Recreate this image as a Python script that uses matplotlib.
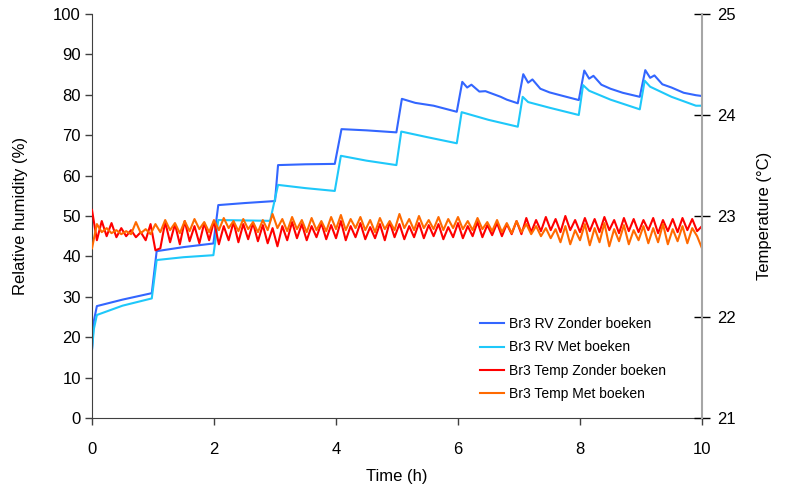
import numpy as np
import matplotlib
matplotlib.use("Agg")
import matplotlib.pyplot as plt

plt.rcParams['font.family'] = ['Liberation Sans', 'DejaVu Sans']

# ---------------- data ----------------
rv_zonder_t = [0.00, 0.03, 0.08, 0.5, 0.98, 1.06, 1.5, 1.99, 2.07, 2.5, 3.00, 3.05, 3.5, 3.98,
               4.09, 4.5, 4.99, 5.08, 5.3, 5.6, 5.98, 6.07, 6.15, 6.22, 6.35, 6.45, 6.7, 6.8,
               6.98, 7.07, 7.15, 7.22, 7.35, 7.5, 7.7, 7.98, 8.07, 8.15, 8.22, 8.35, 8.5, 8.7,
               8.98, 9.07, 9.15, 9.22, 9.35, 9.5, 9.7, 9.9, 10.0]
rv_zonder = [16.8, 24.0, 27.7, 29.3, 30.9, 41.3, 42.3, 43.2, 52.7, 53.2, 53.7, 62.6, 62.8, 62.9,
             71.5, 71.2, 70.7, 79.0, 78.0, 77.3, 75.8, 83.2, 81.8, 82.5, 80.8, 80.9, 79.5, 78.8,
             77.9, 85.1, 83.0, 83.8, 81.5, 80.6, 79.8, 78.7, 86.0, 84.0, 84.7, 82.5, 81.5, 80.5,
             79.5, 86.1, 84.2, 84.8, 82.6, 81.8, 80.5, 79.9, 79.7]

rv_met_t = [0.00, 0.03, 0.08, 0.5, 0.98, 1.06, 1.5, 1.99, 2.07, 2.5, 2.92, 3.05, 3.5, 3.98,
            4.08, 4.5, 4.99, 5.07, 5.5, 5.98, 6.06, 6.5, 6.98, 7.06, 7.15, 7.5, 7.98, 8.05,
            8.15, 8.5, 8.98, 9.06, 9.15, 9.5, 9.9, 10.0]
rv_met = [17.0, 22.0, 25.5, 27.8, 29.6, 39.1, 39.8, 40.3, 49.0, 48.9, 48.8, 57.7, 56.9, 56.2,
          64.9, 63.7, 62.6, 70.9, 69.5, 68.0, 75.7, 73.8, 72.1, 79.5, 78.2, 76.8, 75.0, 82.4,
          81.0, 78.8, 76.4, 83.5, 82.0, 79.5, 77.3, 77.3]

temp_t = np.linspace(0, 10, 126)
temp_zonder = [23.06, 22.76, 22.95, 22.80, 22.93, 22.79, 22.88, 22.80, 22.86, 22.79, 22.84, 22.76,
               22.92, 22.66, 22.68, 22.94, 22.74, 22.92, 22.72, 22.95, 22.75, 22.90, 22.73, 22.93,
               22.76, 22.95, 22.72, 22.90, 22.76, 22.94, 22.74, 22.92, 22.77, 22.93, 22.75, 22.91,
               22.73, 22.88, 22.70, 22.90, 22.76, 22.94, 22.78, 22.92, 22.76, 22.90, 22.79, 22.93,
               22.77, 22.91, 22.78, 22.95, 22.76, 22.90, 22.79, 22.93, 22.77, 22.89, 22.78, 22.92,
               22.76, 22.94, 22.79, 22.92, 22.77, 22.90, 22.79, 22.93, 22.78, 22.91, 22.80, 22.92,
               22.77, 22.89, 22.79, 22.93, 22.78, 22.90, 22.80, 22.94, 22.79, 22.91, 22.81, 22.93,
               22.80, 22.92, 22.82, 22.95, 22.82, 22.98, 22.84, 22.96, 22.85, 22.99, 22.86, 22.97,
               22.84, 23.00, 22.86, 22.96, 22.84, 22.98, 22.85, 22.97, 22.84, 22.99, 22.86, 22.96,
               22.83, 22.98, 22.85, 22.97, 22.84, 22.96, 22.86, 22.98, 22.83, 22.96, 22.85, 22.97,
               22.84, 22.98, 22.86, 22.97, 22.85, 22.90]
temp_met = [22.68, 22.92, 22.84, 22.88, 22.83, 22.86, 22.82, 22.85, 22.82, 22.94, 22.83, 22.87,
            22.82, 22.92, 22.84, 22.96, 22.86, 22.93, 22.83, 22.95, 22.85, 22.97, 22.87, 22.94,
            22.84, 22.96, 22.86, 22.98, 22.88, 22.95, 22.85, 22.97, 22.87, 22.94, 22.84, 22.96,
            22.86, 23.02, 22.88, 22.97, 22.85, 22.99, 22.87, 22.96, 22.84, 22.98, 22.86, 22.95,
            22.85, 22.99, 22.87, 23.01, 22.86, 22.97, 22.88, 22.99, 22.86, 22.96, 22.84, 22.98,
            22.87, 22.95, 22.86, 23.02, 22.88, 22.97, 22.86, 23.00, 22.88, 22.96, 22.87, 22.99,
            22.86, 22.97, 22.88, 22.99, 22.87, 22.95, 22.86, 22.98, 22.87, 22.94, 22.85, 22.96,
            22.84, 22.93, 22.83, 22.95, 22.84, 22.92, 22.82, 22.90, 22.80, 22.88, 22.78, 22.87,
            22.74, 22.90, 22.72, 22.86, 22.76, 22.92, 22.71, 22.88, 22.74, 22.93, 22.70, 22.87,
            22.75, 22.91, 22.72, 22.86, 22.76, 22.90, 22.73, 22.88, 22.74, 22.92, 22.72, 22.87,
            22.75, 22.90, 22.73, 22.88, 22.80, 22.68]

labels = ["Br3 RV Zonder boeken", "Br3 RV Met boeken",
          "Br3 Temp Zonder boeken", "Br3 Temp Met boeken"]
colors = ["#3366FF", "#1EC8FA", "#FF0000", "#FF6A00"]

x_ticks = [0, 2, 4, 6, 8, 10]
rh_ticks = list(range(0, 101, 10))
temp_ticks = [21, 22, 23, 24, 25]

# ---------------- figure ----------------
W, H = 793, 491
fig = plt.figure(figsize=(W / 100, H / 100), dpi=100)
L, R, T, B = 92, 702, 14, 418
ax = fig.add_axes([L / W, 1 - B / H, (R - L) / W, (B - T) / H])
ax2 = ax.twinx()

lw = 1.5
l1, = ax.plot(rv_zonder_t, rv_zonder, color=colors[0], lw=lw)
l2, = ax.plot(rv_met_t, rv_met, color=colors[1], lw=lw)
l3, = ax2.plot(temp_t, temp_zonder, color=colors[2], lw=lw)
l4, = ax2.plot(temp_t, temp_met, color=colors[3], lw=lw)

ax.set_xlim(0, 10)
ax.set_ylim(0, 100)
ax2.set_ylim(21, 25)
ax.set_xticks(x_ticks)
ax.set_yticks(rh_ticks)
ax2.set_yticks(temp_ticks)

for a in (ax, ax2):
    a.spines['top'].set_visible(False)
ax.spines['right'].set_visible(False)
ax2.spines['left'].set_visible(False)
ax2.spines['bottom'].set_visible(False)
ax.spines['left'].set_color('#404040')
ax.spines['bottom'].set_color('#404040')
ax2.spines['right'].set_color('#A6A6A6')
ax2.spines['right'].set_linewidth(1.5)

fs = 12
ax.tick_params(axis='y', direction='out', length=5, width=1, color='#404040', pad=3, labelsize=fs)
ax.tick_params(axis='x', direction='out', length=5, width=1, color='#404040', pad=12, labelsize=fs)
ax2.tick_params(axis='y', direction='inout', length=12, width=1, color='black', pad=5, labelsize=fs)

ax.set_xlabel("Time (h)", fontsize=fs, labelpad=9)
ax.set_ylabel("Relative humidity (%)", fontsize=fs, labelpad=18)
ax2.set_ylabel("Temperature (°C)", fontsize=fs, labelpad=15)

leg = fig.legend([l1, l2, l3, l4], labels, loc='upper left',
                 bbox_to_anchor=(480 / W, 1 - 317 / H), frameon=False, fontsize=10,
                 handlelength=1.75, handletextpad=0.35, labelspacing=0.68,
                 borderpad=0, borderaxespad=0)

fig.savefig("out.png", dpi=100)
